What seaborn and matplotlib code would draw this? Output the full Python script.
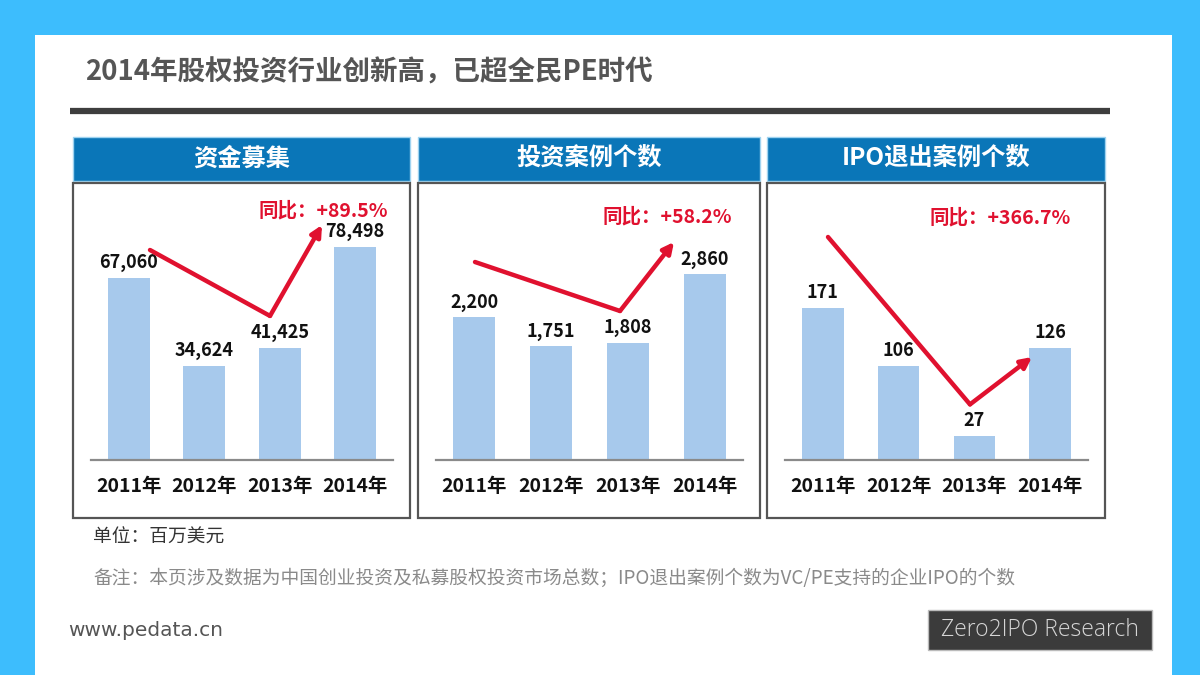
import numpy as np
import pandas as pd
import seaborn as sns
import matplotlib.pyplot as plt
from matplotlib.patches import Rectangle

# ---------------------------------------------------------
# Data
# ---------------------------------------------------------
years = ['2011年', '2012年', '2013年', '2014年']
fundraising = [67060, 34624, 41425, 78498]      # 资金募集 (百万美元)
invest_cases = [2200, 1751, 1808, 2860]         # 投资案例个数
ipo_exits = [171, 106, 27, 126]                 # IPO退出案例个数

panel_titles = ['资金募集', '投资案例个数', 'IPO退出案例个数']
yoy_labels = ['同比：+89.5%', '同比：+58.2%', '同比：+366.7%']
series = [fundraising, invest_cases, ipo_exits]

# ---------------------------------------------------------
# Layout (figure pixels, 1200 x 675, origin top-left)
# ---------------------------------------------------------
W, H = 1200, 675
panel_x = [(73, 410), (418, 760), (767, 1105)]
header_y = (137, 181)
box_y = (183, 518)
base_y, top_y = 460, 200
ylim_factor = [1.22, 1.40, 1.71]
yoy_pos = [(323, 211), (667, 217), (1000, 218)]
# trend arrows: start point, x of turning point (its height sits just above
# the 2013 value label), tip
arrow_start = [(150, 250), (475, 262), (828, 237)]
arrow_turn_x = [270, 620, 970]
arrow_tip = [(322, 225), (674, 242), (1032, 357)]
LABEL_PAD = 4
LABEL_H = 22

SKY = '#3dbdfd'
HEADER = '#0a76b8'
BAR = '#a7c9ec'
RED = '#e0112f'

sns.set_theme(style='white')
plt.rcParams['font.family'] = ['Noto Sans CJK SC', 'DejaVu Sans']

fig = plt.figure(figsize=(12, 6.75), dpi=100)
fig.patch.set_facecolor(SKY)

# background overlay in pixel coordinates
bg = fig.add_axes([0, 0, 1, 1], zorder=0)
bg.set_xlim(0, W)
bg.set_ylim(H, 0)
bg.axis('off')

bg.add_patch(Rectangle((35, 35), 1137, 640, fc='white', ec='none'))
bg.text(85, 73, '2014年股权投资行业创新高，已超全民PE时代', fontsize=19.8,
        fontweight='bold', color='#555555', va='center', ha='left')
bg.plot([70, 1110], [111, 111], color='#3e3e3e', lw=4.5, solid_capstyle='butt')

for (x0, x1), title in zip(panel_x, panel_titles):
    bg.add_patch(Rectangle((x0, header_y[0]), x1 - x0, header_y[1] - header_y[0],
                           fc=HEADER, ec='#9fd3f0', lw=1))
    bg.text((x0 + x1) / 2, (header_y[0] + header_y[1]) / 2, title, color='white',
            fontsize=17.5, fontweight='bold', ha='center', va='center')
    bg.add_patch(Rectangle((x0, box_y[0]), x1 - x0, box_y[1] - box_y[0],
                           fc='white', ec='#555555', lw=1.6))

bg.text(93, 537, '单位：百万美元', fontsize=13.5, color='#333333', va='center')
bg.text(93, 578, '备注：本页涉及数据为中国创业投资及私募股权投资市场总数；IPO退出案例个数为VC/PE支持的企业IPO的个数',
        fontsize=13.5, color='#8a8a8a', va='center')
bg.text(68, 630, 'www.pedata.cn', fontsize=14.5, color='#555555', va='center',
        family=['Liberation Sans Narrow', 'DejaVu Sans'])
bg.add_patch(Rectangle((928, 610), 224, 40, fc='#3b3b3b', ec='#bbbbbb', lw=1))
bg.text(1040, 630, 'Zero2IPO Research', fontsize=16.5, color='#d6d6d6',
        ha='center', va='center', family=['Open Sans', 'DejaVu Sans'], fontweight='light')

# ---------------------------------------------------------
# Bar panels
# ---------------------------------------------------------
turn_y = []
for i, ((x0, x1), values) in enumerate(zip(panel_x, series)):
    left = x0 + 18
    width = (x1 - x0) - 35
    ax = fig.add_axes([left / W, 1 - base_y / H, width / W, (base_y - top_y) / H], zorder=1)
    ax.patch.set_alpha(0)
    df = pd.DataFrame({'year': years, 'value': values})
    sns.barplot(data=df, x='year', y='value', ax=ax, color=BAR, width=0.55,
                saturation=1, edgecolor='none')
    ax.set_xlim(-0.5, 3.5)
    ymax = max(values) * ylim_factor[i]
    ax.set_ylim(0, ymax)
    ax.bar_label(ax.containers[0], labels=[f'{v:,}' for v in values], padding=LABEL_PAD,
                 fontsize=13, fontweight='bold', color='#111111')
    ax.set_xlabel('')
    ax.set_ylabel('')
    ax.set_yticks([])
    for s in ['top', 'left', 'right']:
        ax.spines[s].set_visible(False)
    ax.spines['bottom'].set_color('#8a8a8a')
    ax.spines['bottom'].set_linewidth(1.6)
    ax.tick_params(axis='x', length=0, pad=12)
    for lab in ax.get_xticklabels():
        lab.set_fontsize(14)
        lab.set_fontweight('bold')
        lab.set_color('#111111')
    # pixel height of the 2013 bar top, used to place the arrow's turning point
    bar_top = base_y - values[2] / ymax * (base_y - top_y)
    turn_y.append(bar_top - LABEL_PAD * 1.4 - LABEL_H - 4)

# foreground overlay for trend arrows and YoY labels
fg = fig.add_axes([0, 0, 1, 1], zorder=2)
fg.patch.set_alpha(0)
fg.set_xlim(0, W)
fg.set_ylim(H, 0)
fg.axis('off')

for i in range(3):
    (xa, ya) = arrow_start[i]
    xb, yb = arrow_turn_x[i], turn_y[i]
    (xc, yc) = arrow_tip[i]
    fg.plot([xa, xb], [ya, yb], color=RED, lw=3.2, solid_capstyle='round')
    fg.annotate('', xy=(xc, yc), xytext=(xb, yb),
                arrowprops=dict(arrowstyle='-|>', color=RED, lw=3.2,
                                mutation_scale=16, shrinkA=0, shrinkB=0))
    tx, ty = yoy_pos[i]
    fg.text(tx, ty, yoy_labels[i], color=RED, fontsize=14, fontweight='bold',
            ha='center', va='center')

fig.savefig('out.png', dpi=100, facecolor=fig.get_facecolor())
